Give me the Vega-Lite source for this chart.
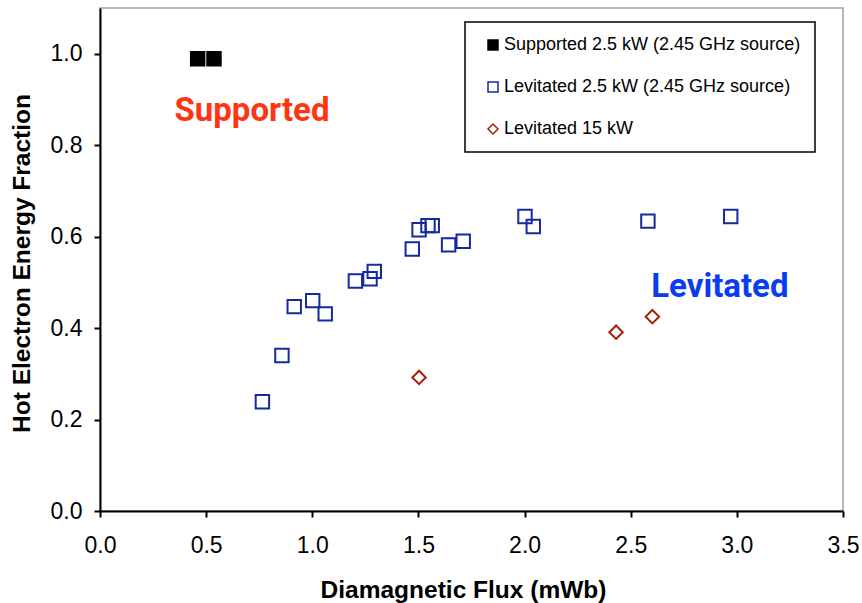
{
  "$schema": "https://vega.github.io/schema/vega-lite/v6.json",
  "width": 743,
  "height": 503,
  "autosize": {"type": "none"},
  "padding": {"left": 100, "top": 8, "right": 19, "bottom": 92},
  "background": "white",
  "config": {
    "view": {"stroke": "#a0a0a0", "strokeWidth": 1.5},
    "font": "Liberation Sans",
    "axis": {
      "domainColor": "black", "domainWidth": 2, "tickColor": "black", "tickWidth": 2, "tickSize": 6,
      "grid": false, "labelFont": "Liberation Sans", "labelFontSize": 23, "labelColor": "black",
      "titleFont": "Liberation Sans", "titleFontSize": 24.5, "titleFontWeight": "bold", "titleColor": "black",
      "labelFlush": false, "labelOverlap": false
    },
    "legend": {
      "orient": "none", "legendX": 365, "legendY": 14,
      "strokeColor": "black", "strokeWidth": 1.5, "fillColor": "white",
      "padding": 14, "rowPadding": 24, "symbolOffset": 5, "labelOffset": 2,
      "labelFont": "Liberation Sans", "labelFontSize": 18, "labelColor": "black", "labelLimit": 500,
      "symbolSize": 100, "symbolStrokeWidth": 1.5
    }
  },
  "layer": [
    {
      "data": {"values": [
        {"series": "Supported 2.5 kW (2.45 GHz source)", "flux": 0.46, "frac": 0.989},
        {"series": "Supported 2.5 kW (2.45 GHz source)", "flux": 0.537, "frac": 0.989},
        {"series": "Levitated 2.5 kW (2.45 GHz source)", "flux": 0.765, "frac": 0.239},
        {"series": "Levitated 2.5 kW (2.45 GHz source)", "flux": 0.857, "frac": 0.340},
        {"series": "Levitated 2.5 kW (2.45 GHz source)", "flux": 0.915, "frac": 0.447},
        {"series": "Levitated 2.5 kW (2.45 GHz source)", "flux": 1.002, "frac": 0.460},
        {"series": "Levitated 2.5 kW (2.45 GHz source)", "flux": 1.061, "frac": 0.431},
        {"series": "Levitated 2.5 kW (2.45 GHz source)", "flux": 1.203, "frac": 0.503},
        {"series": "Levitated 2.5 kW (2.45 GHz source)", "flux": 1.272, "frac": 0.508},
        {"series": "Levitated 2.5 kW (2.45 GHz source)", "flux": 1.292, "frac": 0.524},
        {"series": "Levitated 2.5 kW (2.45 GHz source)", "flux": 1.471, "frac": 0.573},
        {"series": "Levitated 2.5 kW (2.45 GHz source)", "flux": 1.503, "frac": 0.615},
        {"series": "Levitated 2.5 kW (2.45 GHz source)", "flux": 1.545, "frac": 0.624},
        {"series": "Levitated 2.5 kW (2.45 GHz source)", "flux": 1.565, "frac": 0.624},
        {"series": "Levitated 2.5 kW (2.45 GHz source)", "flux": 1.642, "frac": 0.582},
        {"series": "Levitated 2.5 kW (2.45 GHz source)", "flux": 1.711, "frac": 0.590},
        {"series": "Levitated 2.5 kW (2.45 GHz source)", "flux": 2.002, "frac": 0.644},
        {"series": "Levitated 2.5 kW (2.45 GHz source)", "flux": 2.041, "frac": 0.622},
        {"series": "Levitated 2.5 kW (2.45 GHz source)", "flux": 2.581, "frac": 0.634},
        {"series": "Levitated 2.5 kW (2.45 GHz source)", "flux": 2.971, "frac": 0.644},
        {"series": "Levitated 15 kW", "flux": 1.503, "frac": 0.292},
        {"series": "Levitated 15 kW", "flux": 2.431, "frac": 0.391},
        {"series": "Levitated 15 kW", "flux": 2.602, "frac": 0.425}
      ]},
      "mark": {"type": "point", "size": 180, "strokeWidth": 2, "opacity": 1},
      "encoding": {
        "x": {
          "field": "flux", "type": "quantitative",
          "scale": {"domain": [0, 3.5], "nice": false, "zero": false},
          "axis": {
            "title": "Diamagnetic Flux (mWb)", "values": [0, 0.5, 1, 1.5, 2, 2.5, 3, 3.5], "format": ".1f",
            "labelPadding": 17, "titleX": 363, "titleY": 79, "titleAlign": "center", "titleBaseline": "middle"
          }
        },
        "y": {
          "field": "frac", "type": "quantitative",
          "scale": {"domain": [0, 1.1], "nice": false},
          "axis": {
            "title": "Hot Electron Energy Fraction", "values": [0, 0.2, 0.4, 0.6, 0.8, 1.0], "format": ".1f",
            "labelPadding": 12, "titleX": -78, "titleY": 255, "titleAngle": 270, "titleAlign": "center", "titleBaseline": "middle"
          }
        },
        "shape": {
          "field": "series", "type": "nominal", "title": null,
          "scale": {"domain": ["Supported 2.5 kW (2.45 GHz source)", "Levitated 2.5 kW (2.45 GHz source)", "Levitated 15 kW"], "range": ["square", "square", "diamond"]}
        },
        "stroke": {
          "field": "series", "type": "nominal", "title": null,
          "scale": {"domain": ["Supported 2.5 kW (2.45 GHz source)", "Levitated 2.5 kW (2.45 GHz source)", "Levitated 15 kW"], "range": ["#000000", "#1529a0", "#a3200e"]}
        },
        "fill": {
          "field": "series", "type": "nominal", "title": null,
          "scale": {"domain": ["Supported 2.5 kW (2.45 GHz source)", "Levitated 2.5 kW (2.45 GHz source)", "Levitated 15 kW"], "range": ["#000000", "transparent", "transparent"]}
        }
      }
    },
    {
      "data": {"values": [{"label": "Supported", "flux": 0.716, "frac": 0.875}]},
      "mark": {"type": "text", "font": "Roboto", "fontWeight": "bold", "fontSize": 33, "color": "#ff3512", "align": "center", "baseline": "middle"},
      "encoding": {
        "x": {"field": "flux", "type": "quantitative"},
        "y": {"field": "frac", "type": "quantitative"},
        "text": {"field": "label"}
      }
    },
    {
      "data": {"values": [{"label": "Levitated", "flux": 2.92, "frac": 0.49}]},
      "mark": {"type": "text", "font": "Roboto", "fontWeight": "bold", "fontSize": 33, "color": "#0a3cf2", "align": "center", "baseline": "middle"},
      "encoding": {
        "x": {"field": "flux", "type": "quantitative"},
        "y": {"field": "frac", "type": "quantitative"},
        "text": {"field": "label"}
      }
    }
  ]
}
